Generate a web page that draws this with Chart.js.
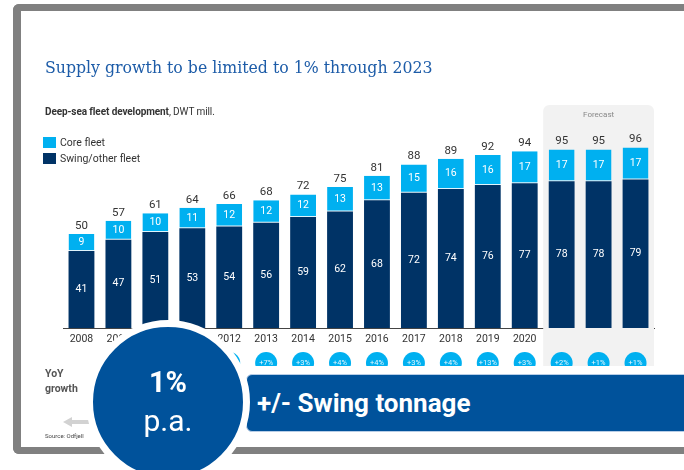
<!DOCTYPE html>
<html>
<head>
<meta charset="utf-8">
<script src="https://cdn.jsdelivr.net/npm/chart.js@4"></script>
<style>
  html, body { margin: 0; padding: 0; background: #fff; }
  body { width: 684px; height: 470px; position: relative; overflow: hidden; font-family: Roboto, sans-serif; }
  .frame { position: absolute; left: 13px; top: 4px; width: 720px; height: 436px; border: 7px solid #808080; border-left-width: 8px; border-right: none; border-radius: 6px 0 0 6px; }
  #chart { position: absolute; left: 0; top: 0; }
  .title { position: absolute; left: 45px; top: 57px; font-family: "DejaVu Serif Condensed", serif; font-size: 17.5px; color: #1d5ca8; white-space: nowrap; }
  .sub { position: absolute; left: 45px; top: 106px; font-size: 10px; color: #333; white-space: nowrap; letter-spacing: -0.1px; }
  .legend { position: absolute; left: 43px; font-size: 10.5px; color: #333; white-space: nowrap; }
  .legend i { display: inline-block; width: 13px; height: 11px; vertical-align: -2px; margin-right: 4px; }
  .yoy { position: absolute; left: 45px; top: 366px; font-size: 10.5px; font-weight: bold; color: #555; line-height: 15px; }
  .arrow { position: absolute; left: 63px; top: 417px; width: 26px; height: 10px; }
  .arrow .head { position: absolute; left: 0; top: 0; width: 0; height: 0; border-top: 5px solid transparent; border-bottom: 5px solid transparent; border-right: 9px solid #d2d2d2; }
  .arrow .shaft { position: absolute; left: 9px; top: 3px; width: 17px; height: 4px; background: #d2d2d2; }
  .source { position: absolute; left: 45px; top: 432px; font-size: 6px; color: #444; }
  .banner { position: absolute; left: 246px; top: 374px; width: 460px; height: 58px; background: #00529b; border: 1px solid #b7cde6; border-radius: 6px 0 0 6px; color: #fff; font-weight: bold; font-size: 26px; line-height: 56px; padding-left: 10px; box-sizing: border-box; }
  .circle { position: absolute; left: 86px; top: 320px; width: 150px; height: 150px; border-radius: 50%; background: #00529b; border: 7px solid #fff; color: #fff; text-align: center; }
  .circle .big { position: absolute; left: 0; right: 0; top: 38px; font-size: 29px; font-weight: bold; }
  .circle .pa { position: absolute; left: 0; right: 0; top: 76px; font-size: 30px; }
</style>
</head>
<body>
<div class="frame"></div>
<canvas id="chart" width="684" height="470"></canvas>
<div class="title">Supply growth to be limited to 1% through 2023</div>
<div class="sub"><b>Deep-sea fleet development</b>, DWT mill.</div>
<div class="legend" style="top:136px"><i style="background:#00b0f0"></i>Core fleet</div>
<div class="legend" style="top:152px"><i style="background:#003366"></i>Swing/other fleet</div>
<div class="yoy">YoY<br>growth</div>
<div class="arrow"><div class="head"></div><div class="shaft"></div></div>
<div class="source">Source: Odfjell</div>
<div class="banner">+/- Swing tonnage</div>
<div class="circle"><div class="big">1%</div><div class="pa">p.a.</div></div>
<script>
const years = ['2008', '2009', '2010', '2011', '2012', '2013', '2014', '2015', '2016', '2017', '2018', '2019', '2020', '2021E', '2022E', '2023E'];
const swingFleet = [41, 47, 51, 53, 54, 56, 59, 62, 68, 72, 74, 76, 77, 78, 78, 79];
const coreFleet = [9, 10, 10, 11, 12, 12, 12, 13, 13, 15, 16, 16, 17, 17, 17, 17];
const totalFleet = [50, 57, 61, 64, 66, 68, 72, 75, 81, 88, 89, 92, 94, 95, 95, 96];
// growth bubbles under the axis (2009-2012 are hidden behind the overlay, estimated)
const yoyGrowth = [null, '+14%', '+7%', '+5%', '+3%', '+7%', '+3%', '+4%', '+4%', '+3%', '+4%', '+13%', '+3%', '+2%', '+1%', '+1%'];
const forecastFrom = 13;

const FONT = 'Roboto, sans-serif';

// grey forecast panel behind the last bars
const forecastPanel = {
  id: 'forecastPanel',
  beforeDatasetsDraw(chart) {
    const { ctx, scales: { x } } = chart;
    const half = (x.getPixelForValue(1) - x.getPixelForValue(0)) / 2;
    const left = x.getPixelForValue(forecastFrom) - half;
    const right = x.getPixelForValue(years.length - 1) + half;
    ctx.save();
    ctx.fillStyle = '#f2f2f2';
    ctx.beginPath();
    ctx.roundRect(left, 105, right - left, 261, [6, 6, 0, 0]);
    ctx.fill();
    ctx.fillStyle = '#888';
    ctx.font = '8px ' + FONT;
    ctx.textAlign = 'center';
    ctx.textBaseline = 'middle';
    ctx.fillText('Forecast', (left + right) / 2, 115);
    ctx.restore();
  }
};

// numbers on and above the bars, plus growth bubbles
const barLabels = {
  id: 'barLabels',
  afterDatasetsDraw(chart) {
    const { ctx, scales: { x } } = chart;
    const swing = chart.getDatasetMeta(0).data;
    const core = chart.getDatasetMeta(1).data;
    ctx.save();
    ctx.textAlign = 'center';
    ctx.textBaseline = 'middle';
    swing.forEach((bar, i) => {
      const c = core[i];
      ctx.font = '10.5px ' + FONT;
      ctx.fillStyle = '#fff';
      ctx.fillText(swingFleet[i], bar.x, (bar.y + bar.base) / 2);
      ctx.fillText(coreFleet[i], c.x, (c.y + c.base) / 2);
      ctx.fillStyle = '#333';
      ctx.font = '11.5px ' + FONT;
      ctx.fillText(totalFleet[i], c.x, c.y - 8);
    });
    // growth bubbles, cut off by the banner
    ctx.beginPath();
    ctx.rect(0, 340, chart.width, 26);
    ctx.clip();
    yoyGrowth.forEach((g, i) => {
      if (!g) return;
      const cx = x.getPixelForValue(i);
      ctx.fillStyle = '#00b0f0';
      ctx.beginPath();
      ctx.arc(cx, 363, 11, 0, Math.PI * 2);
      ctx.fill();
      ctx.fillStyle = '#e8f7fd';
      ctx.font = '7.5px ' + FONT;
      ctx.fillText(g, cx, 363);
    });
    ctx.restore();
  }
};

new Chart(document.getElementById('chart'), {
  type: 'bar',
  data: {
    labels: years,
    datasets: [
      { label: 'Swing/other fleet', data: swingFleet, backgroundColor: '#003366', borderWidth: 0 },
      { label: 'Core fleet', data: coreFleet, backgroundColor: '#00b0f0', borderColor: '#dff4fc', borderWidth: { bottom: 1 }, borderSkipped: false }
    ]
  },
  options: {
    responsive: false,
    animation: false,
    barPercentage: 0.7,
    categoryPercentage: 1,
    layout: { padding: { left: 63, right: 30, top: 140, bottom: 122 } },
    plugins: { legend: { display: false }, tooltip: { enabled: false } },
    scales: {
      x: {
        stacked: true,
        grid: { display: false, drawTicks: false },
        border: { color: '#444', width: 1 },
        ticks: { color: '#333', font: { family: FONT, size: 10.5 }, padding: 5, maxRotation: 0, minRotation: 0, autoSkip: false },
        afterFit: (s) => { s.height = 20; }
      },
      y: { stacked: true, display: false, min: 0, max: 100 }
    }
  },
  plugins: [forecastPanel, barLabels]
});
</script>
</body>
</html>
